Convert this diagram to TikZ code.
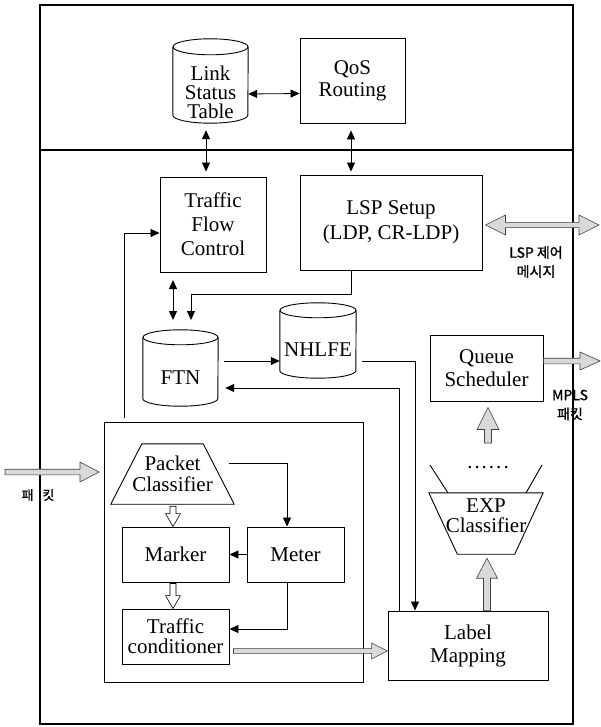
\documentclass[tikz,border=0pt]{standalone}
\usepackage{fontspec}
\setmainfont{Liberation Serif}
\newfontfamily\cjk[AutoFakeBold=1.2]{Noto Sans CJK KR}
\usetikzlibrary{calc,arrows.meta}

\newcommand\FatArrow[6][]{%
 \coordinate (fa-s) at (#2);
 \coordinate (fa-e) at (#3);
 \coordinate (fa-h) at ($(fa-e)!#4!(fa-s)$);
 \filldraw[#1] ($(fa-s)!#6!90:(fa-e)$) -- ($(fa-h)!#6!-90:(fa-s)$) -- ($(fa-h)!#5!-90:(fa-s)$) -- (fa-e) -- ($(fa-h)!#5!90:(fa-s)$) -- ($(fa-h)!#6!90:(fa-s)$) -- ($(fa-s)!#6!-90:(fa-e)$) -- cycle;}
\newcommand\FatDArrow[6][]{%
 \coordinate (fa-s) at (#2);
 \coordinate (fa-e) at (#3);
 \coordinate (fa-h) at ($(fa-e)!#4!(fa-s)$);
 \coordinate (fa-g) at ($(fa-s)!#4!(fa-e)$);
 \filldraw[#1] (fa-s) -- ($(fa-g)!#5!90:(fa-e)$) -- ($(fa-g)!#6!90:(fa-e)$) -- ($(fa-h)!#6!-90:(fa-s)$) -- ($(fa-h)!#5!-90:(fa-s)$) -- (fa-e) -- ($(fa-h)!#5!90:(fa-s)$) -- ($(fa-h)!#6!90:(fa-s)$) -- ($(fa-g)!#6!-90:(fa-e)$) -- ($(fa-g)!#5!-90:(fa-e)$) -- cycle;}
\newcommand\CylDraw[3]{%
 \draw[cylline] ([yshift=-#3]#1.north) ellipse [x radius=#2, y radius=#3];
 \draw[cylline] ([yshift=-#3]#1.north west) -- ([yshift=#3]#1.south west) arc[start angle=180, end angle=360, x radius=#2, y radius=#3] -- ([yshift=-#3]#1.north east);}

\tikzset{
 blk/.style={draw, line width=0.9pt, align=center, inner sep=0pt},
 ghost/.style={inner sep=0pt, align=center},
 txt/.style={inner sep=0pt, align=center},
 cylline/.style={line width=0.9pt},
 frame/.style={line width=1.2pt},
 conn/.style={line width=0.8pt, -{Triangle[length=9pt,width=8pt]}},
 conn2/.style={line width=0.8pt, {Triangle[length=9pt,width=8pt]}-{Triangle[length=9pt,width=8pt]}},
 plain/.style={line width=0.8pt},
 greyfat/.style={fill=gray!30, draw=black!75, line width=0.6pt},
 whitefat/.style={fill=white, draw=black, line width=0.6pt},
 kor/.style={inner sep=0pt, align=center, font=\cjk\bfseries\fontsize{14}{19}\selectfont},
}

\begin{document}
\begin{tikzpicture}[x=1pt, y=-1pt]
\useasboundingbox (0,0) rectangle (601,727);

% frames
\draw[frame] (40,5) rectangle (573,150);
\draw[frame] (40,150) rectangle (573,724);
\draw[line width=1.6pt] (40,150) -- (573,150);

% top area
\node[ghost, minimum width=75pt, minimum height=84pt] (lst) at (210.5,81) {};
\CylDraw{lst}{37.5pt}{8pt}
\node[txt, font=\fontsize{21}{19}\selectfont] (lst-t) at (210.5,92) {Link\\Status\\Table};
\node[blk, minimum width=105pt, minimum height=85pt, font=\fontsize{21}{22}\selectfont] (qos) at (352.5,80.5) {QoS\\Routing};

% middle
\node[blk, minimum width=106pt, minimum height=95pt, font=\fontsize{21}{24}\selectfont] (tfc) at (213,224.5) {Traffic\\Flow\\Control};
\node[blk, minimum width=182pt, minimum height=95pt, font=\fontsize{21}{25}\selectfont] (lsp) at (391,222.5) {LSP Setup\\(LDP, CR-LDP)};

\node[ghost, minimum width=75pt, minimum height=76pt] (ftn) at (180.5,368) {};
\CylDraw{ftn}{37.5pt}{7.5pt}
\node[txt, font=\fontsize{21}{24}\selectfont] (ftn-t) at (180.5,378) {FTN};
\node[ghost, minimum width=76pt, minimum height=75pt] (nhlfe) at (318,340.5) {};
\CylDraw{nhlfe}{38pt}{7.5pt}
\node[txt, font=\fontsize{21}{24}\selectfont] (nhlfe-t) at (318,350) {NHLFE};

\node[blk, minimum width=113pt, minimum height=66pt, font=\fontsize{21}{23}\selectfont] (queue) at (486.5,368) {Queue\\Scheduler};

% inner group
\node[blk, minimum width=259pt, minimum height=260pt] (grp) at (233.5,552) {};
\node[ghost, minimum width=123pt, minimum height=60pt, font=\fontsize{21}{21}\selectfont] (pc) at (172.5,474) {Packet\\Classifier};
\draw[line width=0.9pt] (pc.south west) -- (pc.south east) -- ([xshift=-31pt]pc.north east) -- ([xshift=31pt]pc.north west) -- cycle;
\node[blk, minimum width=107pt, minimum height=55pt, font=\fontsize{21}{24}\selectfont] (marker) at (175.5,554.5) {Marker};
\node[blk, minimum width=97pt, minimum height=55pt, font=\fontsize{21}{24}\selectfont] (meter) at (295.5,554.5) {Meter};
\node[blk, minimum width=107pt, minimum height=55pt, font=\fontsize{21}{20}\selectfont] (tc) at (175.5,636.5) {Traffic\\conditioner};

\node[blk, minimum width=160pt, minimum height=69pt, font=\fontsize{21}{23}\selectfont] (lm) at (468,645.5) {Label\\Mapping};

% EXP classifier
\node[ghost, minimum width=114pt, minimum height=61pt] (exp) at (486,523.5) {};
\draw[line width=0.9pt] (exp.north west) -- (exp.north east) -- ([xshift=-28.5pt]exp.south east) -- ([xshift=28.5pt]exp.south west) -- cycle;
\node[txt, font=\fontsize{21}{20}\selectfont] (exp-t) at (486,516) {EXP\\Classifier};
\coordinate (fl1) at (430,465);
\coordinate (fl2) at (448,493);
\coordinate (fr1) at (542,465);
\coordinate (fr2) at (526,493);
\draw[line width=0.9pt] (fl1) -- (fl2);
\draw[line width=0.9pt] (fr1) -- (fr2);
\node[txt, font=\fontsize{21}{24}\selectfont] (dots) at (488,468) {.\kern2pt.\kern2pt.\kern2pt.\kern2pt.\kern2pt.};

% thin connectors
\draw[conn2] ([yshift=-13pt]lst.east) -- ([yshift=-13pt]qos.west);
\draw[conn2] ([shift={(-4.5pt,-7pt)}]lst.south) -- ([shift={(-7pt,5pt)}]tfc.north);
\draw[conn2] ([shift={(-1.5pt,-7pt)}]qos.south) -- ([shift={(-40pt,3pt)}]lsp.north);
\coordinate (lup) at (124,418);
\draw[conn] (lup) |- ([yshift=-8.5pt]tfc.west);
\coordinate (d1) at (173,280);
\coordinate (d2) at (173,320);
\draw[conn2] (d1) -- (d2);
\coordinate (ftnin) at (191,320);
\draw[conn] ([xshift=-40pt]lsp.south) -- (351,294) -| (ftnin);
\draw[conn] ([shift={(6pt,7pt)}]ftn.east) -- ([yshift=-20.5pt]nhlfe.west);
\draw[conn] ([shift={(6pt,-20.5pt)}]nhlfe.east) -| ([xshift=-53pt]lm.north);
\draw[conn] ([xshift=-69pt]lm.north) |- ([shift={(7pt,-20pt)}]ftn.east);
\draw[conn] ([shift={(-5pt,11pt)}]pc.east) -| ([xshift=-8.5pt]meter.north);
\draw[conn] (meter.west) -- (marker.east);
\draw[conn] ([xshift=-8.5pt]meter.south) |- ([yshift=7.5pt]tc.east);

% fat arrows
\coordinate (in-s) at (5,472);
\coordinate (in-e) at (99,472);
\FatArrow[greyfat]{in-s}{in-e}{19pt}{10pt}{2.8pt}
\FatArrow[whitefat]{[shift={(0.5pt,-2pt)}]pc.south}{[xshift=-2.5pt]marker.north}{13pt}{7.5pt}{3pt}
\FatArrow[whitefat]{[xshift=-2.5pt,yshift=-1pt]marker.south}{[xshift=-2.5pt]tc.north}{13pt}{7.5pt}{3pt}
\FatArrow[greyfat]{[shift={(4pt,-14.5pt)}]tc.east}{[yshift=-5.5pt]lm.west}{16pt}{8pt}{2.4pt}
\FatArrow[greyfat]{[xshift=19pt]lm.north}{[shift={(1pt,-4pt)}]exp.south}{20pt}{10.5pt}{3.5pt}
\coordinate (qa-s) at (488,443);
\FatArrow[greyfat]{qa-s}{[shift={(1.5pt,-6pt)}]queue.south}{22pt}{11pt}{3.5pt}
\coordinate (mpls-e) at (600,361);
\FatArrow[greyfat]{[yshift=7pt]queue.east}{mpls-e}{20pt}{9pt}{2.8pt}
\coordinate (lspc-e) at (599,225);
\FatDArrow[greyfat]{[shift={(3pt,-2.5pt)}]lsp.east}{lspc-e}{20pt}{10pt}{2.6pt}

% Korean labels
\node[kor] (lspmsg) at (536,262) {LSP 제어\\메시지};
\node[kor] (mplspkt) at (570,405) {MPLS\\패킷};
\node[kor, font=\cjk\bfseries\fontsize{13}{16}\selectfont] (pkt) at (38,495) {패\hspace{9pt}킷};
\end{tikzpicture}
\end{document}
